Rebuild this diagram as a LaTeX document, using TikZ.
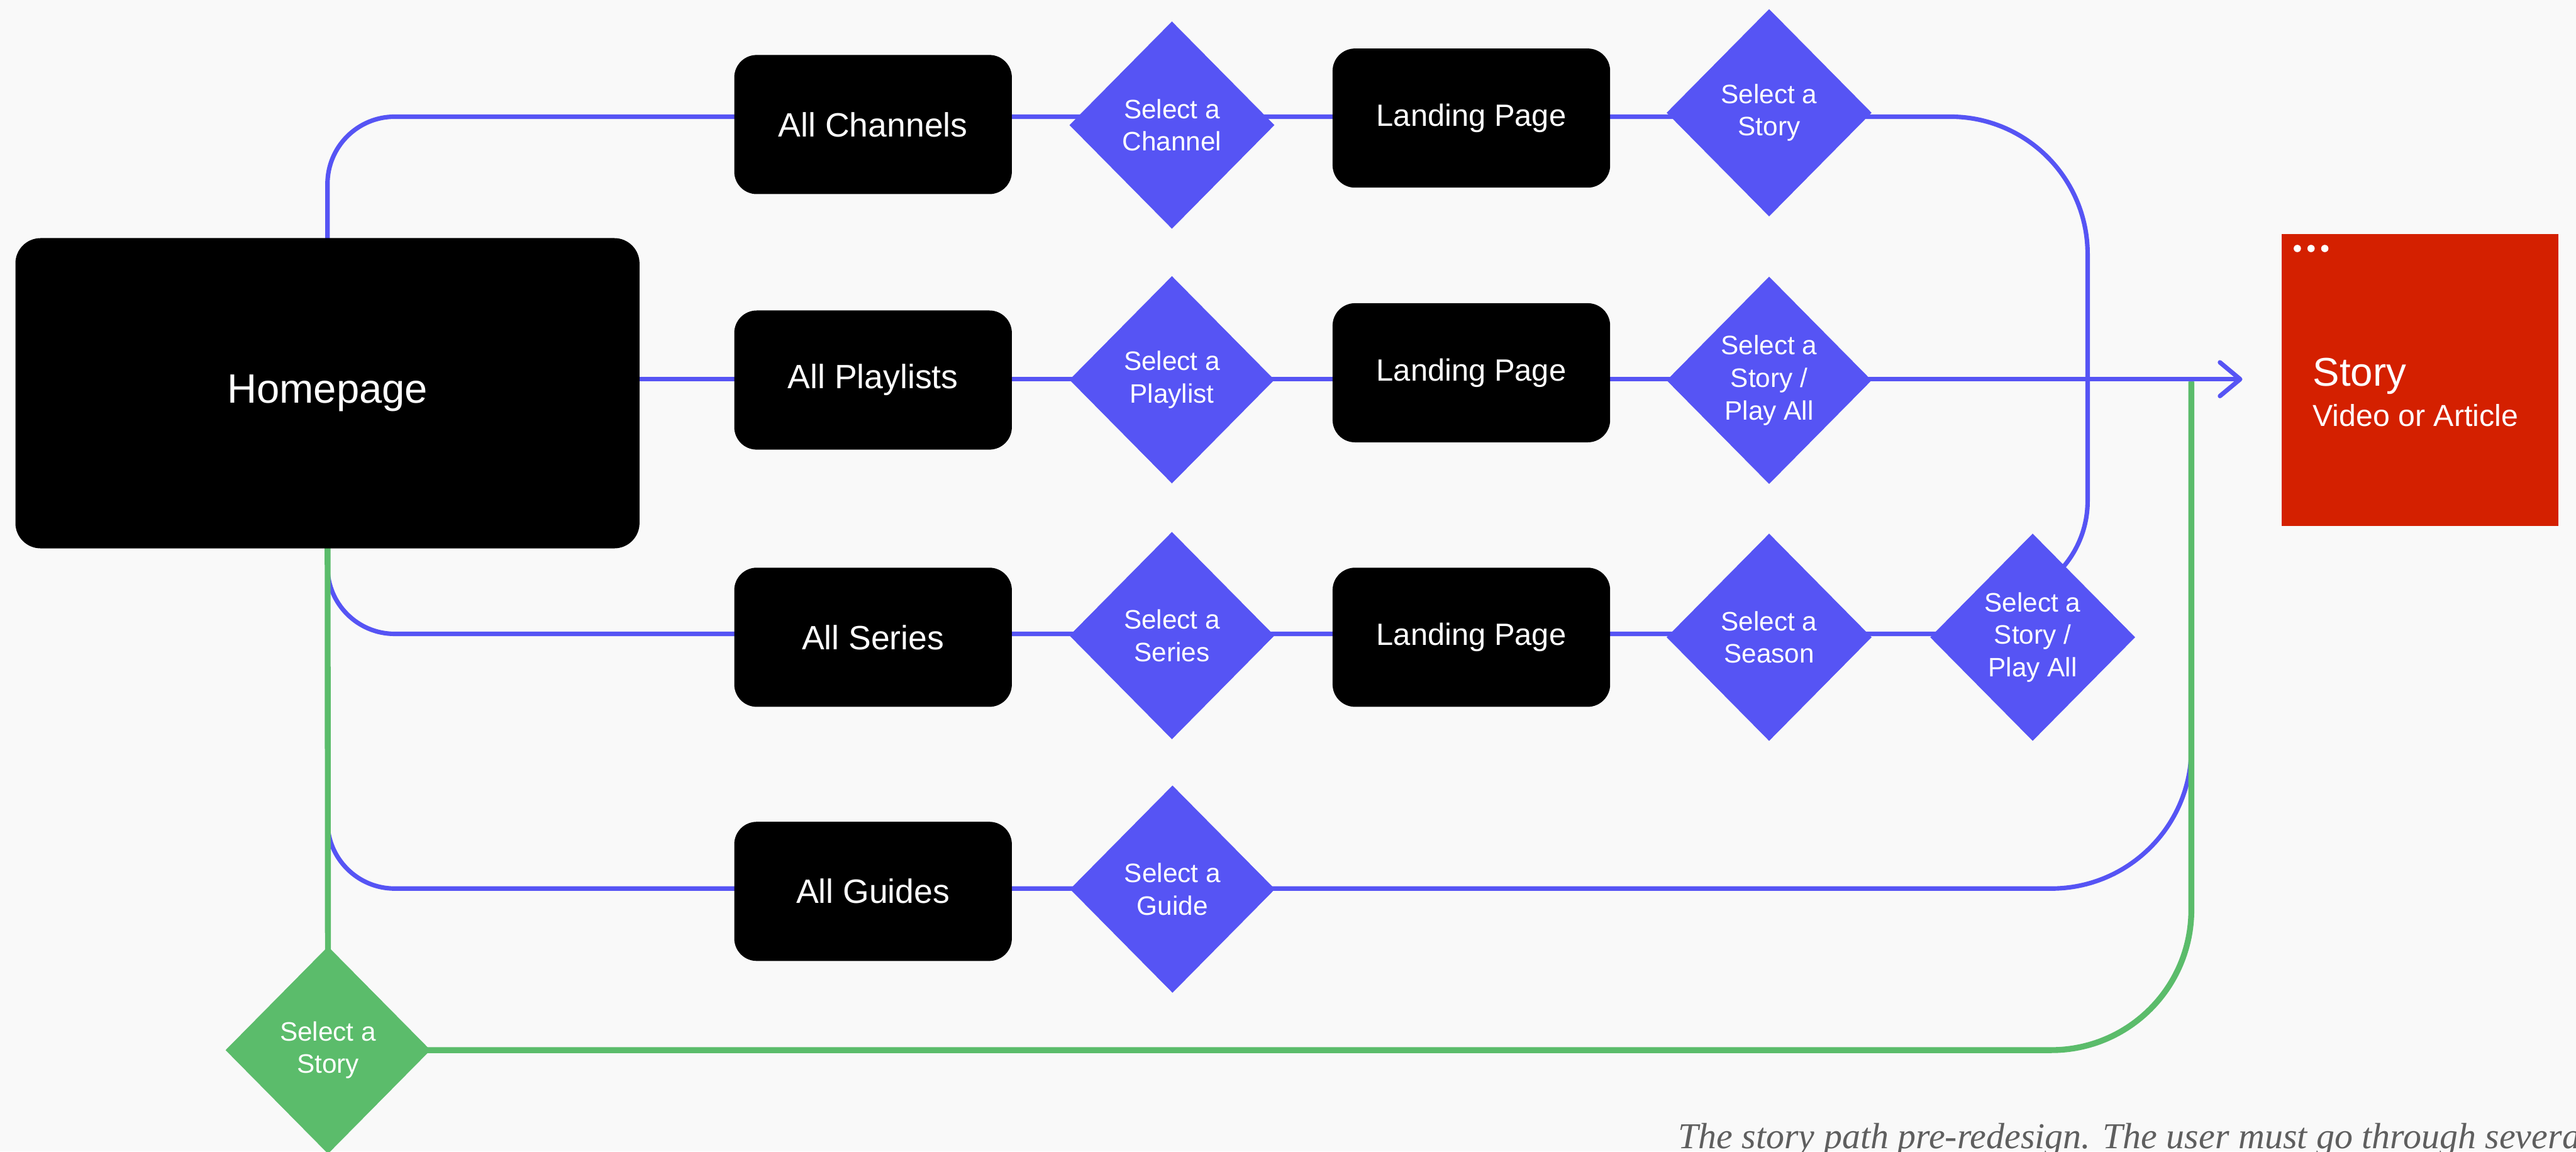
\documentclass[tikz,border=0pt]{standalone}
\usepackage{fontspec}
\setmainfont{Liberation Sans}
\newfontfamily\capserif{Liberation Serif}
\usetikzlibrary{shapes.geometric,arrows.meta}
\definecolor{flowblue}{HTML}{5654F4}
\definecolor{flowgreen}{HTML}{5BBC6B}
\definecolor{storyred}{HTML}{D42000}
\definecolor{pagebg}{HTML}{F9F9F9}
\definecolor{capgray}{HTML}{5F5F5F}
\pgfdeclarelayer{bglayer}
\pgfdeclarelayer{linelayer}
\pgfsetlayers{bglayer,linelayer,main}
\begin{document}
\begin{tikzpicture}[x=1cm,y=-1cm,
  allbox/.style={fill=black, rounded corners=0.4cm, minimum width=4.95cm, minimum height=2.48cm,
    inner sep=0, text=white, font=\fontsize{17.1}{20}\selectfont},
  landbox/.style={allbox, font=\fontsize{15.6}{19}\selectfont},
  choice/.style={diamond, fill=flowblue, minimum width=3.66cm, minimum height=3.70cm, inner sep=0,
    align=center, text=white, font=\fontsize{13.5}{16.5}\selectfont},
  flow/.style={draw=flowblue, line width=0.08cm},
  greenflow/.style={draw=flowgreen, line width=0.105cm},
  whitedot/.style={circle, fill=white, inner sep=0, minimum size=0.13cm}
]
\useasboundingbox (0,0) rectangle (45.94,20.53);
\begin{pgfonlayer}{bglayer}
  \fill[pagebg] (0,0) rectangle (45.94,20.53);
\end{pgfonlayer}

% nodes
\node[allbox, minimum width=11.13cm, minimum height=5.53cm, rounded corners=0.45cm,
      font=\fontsize{20.8}{24}\selectfont] (hp) at (5.84,7.01) {Homepage};

\node[allbox] (ac) at (15.57,2.22) {All Channels};
\node[choice] (d1) at (20.90,2.23) {Select a\\Channel};
\node[landbox] (lp1) at (26.24,2.105) {Landing Page};
\node[choice] (ss1) at (31.55,2.01) {Select a\\Story};

\node[allbox] (ap) at (15.57,6.775) {All Playlists};
\node[choice] (d2) at (20.90,6.77) {Select a\\Playlist};
\node[landbox] (lp2) at (26.24,6.645) {Landing Page};
\node[choice] (ss2) at (31.55,6.78) {Select a\\Story /\\Play All};

\node[allbox] (as) at (15.57,11.36) {All Series};
\node[choice] (d3) at (20.90,11.33) {Select a\\Series};
\node[landbox] (lp3) at (26.24,11.36) {Landing Page};
\node[choice] (se) at (31.55,11.36) {Select a\\Season};
\node[choice] (sp3) at (36.25,11.36) {Select a\\Story /\\Play All};

\node[allbox] (ag) at (15.57,15.89) {All Guides};
\node[choice] (d4) at (20.91,15.85) {Select a\\Guide};

\node[choice, fill=flowgreen] (gs) at (5.85,18.72) {Select a\\Story};

\node[fill=storyred, minimum width=4.94cm, minimum height=5.21cm, inner sep=0] (story) at (43.16,6.775) {};
\node[whitedot] (dt1) at (40.97,4.43) {};
\node[whitedot] (dt2) at (41.215,4.43) {};
\node[whitedot] (dt3) at (41.46,4.43) {};
\node[anchor=base west, inner sep=0, text=white, font=\fontsize{20.3}{24}\selectfont] (stt) at (41.24,6.88) {Story};
\node[anchor=base west, inner sep=0, text=white, font=\fontsize{15.4}{18}\selectfont] (sts) at (41.24,7.60) {Video or Article};

\begin{scope}
  \clip (0,0) rectangle (45.94,20.53);
  \node[anchor=base west, inner sep=0, text=capgray, font=\capserif\itshape\fontsize{18.5}{22}\selectfont] (cap) at (29.92,20.47)
    {The story path pre-redesign. The user must go through severa};
\end{scope}

% connectors
\coordinate (r1) at (0,2.08);
\coordinate (r2) at (0,6.76);
\coordinate (r3) at (0,11.30);
\coordinate (r4) at (0,15.84);
\coordinate (j1) at (37.23,7.0);
\coordinate (j3) at (35.42,10.74);
\coordinate (tip) at (39.99,6.76);
\coordinate (gj) at (39.08,6.80);

\begin{pgfonlayer}{linelayer}
  \draw[flow, rounded corners=1.2cm] (hp.center) |- (ss1.center |- r1);
  \draw[flow, rounded corners=2.45cm] (ss1.center |- r1) -| (j1);
  \draw[flow, rounded corners=1.81cm] (j1) |- (j3);
  \draw[flow, -{Straight Barb[length=0.36cm,width=0.6cm,round]}] (hp.center |- r2) -- (tip);
  \draw[flow, rounded corners=1.2cm] (hp.center) |- (sp3.center |- r3);
  \draw[flow, rounded corners=1.2cm] (hp.center) |- (d4.center |- r4);
  \draw[flow, rounded corners=2.5cm] (d4.center |- r4) -| (gj);
  \draw[greenflow] (hp.center) -- (gs.center);
  \draw[greenflow, rounded corners=2.5cm] (gs.center) -| (gj);
\end{pgfonlayer}
\end{tikzpicture}
\end{document}
